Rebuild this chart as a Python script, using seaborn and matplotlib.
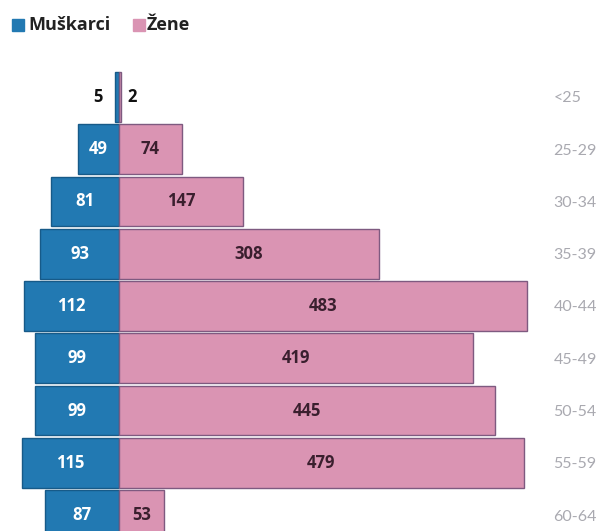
import matplotlib
matplotlib.use("Agg")
import matplotlib.pyplot as plt
import seaborn as sns
import pandas as pd

age_groups = ["<25", "25-29", "30-34", "35-39", "40-44", "45-49", "50-54", "55-59", "60-64"]
men = [5, 49, 81, 93, 112, 99, 99, 115, 87]
women = [2, 74, 147, 308, 483, 419, 445, 479, 53]

men_color = "#2279b2"
women_color = "#da94b3"

sns.set_theme(style="white")
plt.rcParams["font.family"] = ["Open Sans", "DejaVu Sans"]

df = pd.DataFrame({"age": age_groups, "men": [-v for v in men], "women": women})

fig = plt.figure(figsize=(6.04, 5.31), dpi=100)
# axes: left 0px, right 548px, top 65px, bottom 531px
ax = fig.add_axes([0.0, 0.0, 548 / 604, (531 - 65) / 531])

sns.barplot(data=df, y="age", x="men", orient="h", color=men_color, width=0.95,
            edgecolor="#175a88", linewidth=1.0, ax=ax, saturation=1)
sns.barplot(data=df, y="age", x="women", orient="h", color=women_color, width=0.95,
            edgecolor="#7e5a80", linewidth=1.0, ax=ax, saturation=1)

scale = 0.845  # px per unit
ax.set_xlim(-119 / scale, 429 / scale)
ax.set_ylim(8.306, -0.612)

for i, (m, w) in enumerate(zip(men, women)):
    if m < 20:
        ax.text(-m - 20, i, str(m), ha="center", va="center", fontsize=12,
                fontweight="bold", color="#111111")
        ax.text(w + 14, i, str(w), ha="center", va="center", fontsize=12,
                fontweight="bold", color="#111111")
    else:
        ax.text(-m / 2, i, str(m), ha="center", va="center", fontsize=12,
                fontweight="bold", color="white")
        ax.text(w / 2, i, str(w), ha="center", va="center", fontsize=12,
                fontweight="bold", color="#3a1f2e")

ax.yaxis.tick_right()
ax.tick_params(axis="y", length=0, pad=4, labelsize=11.5, labelcolor="#a9a9b0")
for lbl in ax.get_yticklabels():
    lbl.set_family(["Lato", "DejaVu Sans"])
ax.set_xticks([])
ax.set_xlabel("")
ax.set_ylabel("")
for s in ax.spines.values():
    s.set_visible(False)

# legend
fig.patches.append(plt.Rectangle((12 / 604, 1 - 31 / 531), 12 / 604, 12 / 531,
                                 transform=fig.transFigure, color=men_color))
fig.text(28 / 604, 1 - 25 / 531, "Muškarci", fontsize=13, fontweight="bold",
         color="#222222", va="center")
fig.patches.append(plt.Rectangle((133 / 604, 1 - 31 / 531), 12 / 604, 12 / 531,
                                 transform=fig.transFigure, color=women_color))
fig.text(147 / 604, 1 - 25 / 531, "Žene", fontsize=13, fontweight="bold",
         color="#222222", va="center")

fig.savefig("out.png", dpi=100)
